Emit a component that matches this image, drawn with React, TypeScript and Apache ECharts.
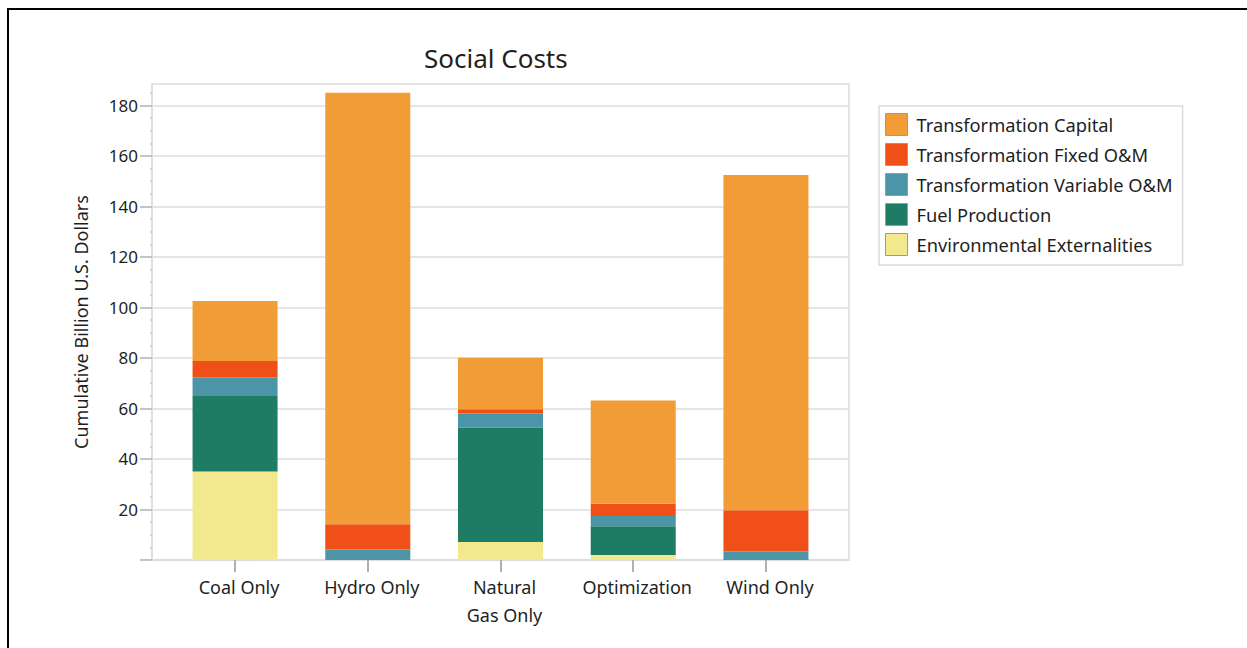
import React, { useEffect, useRef } from "react";
import * as echarts from "echarts";

// Scenarios along the x axis
const categories = ["Coal Only", "Hydro Only", "Natural\nGas Only", "Optimization", "Wind Only"];

// Cost components, in billion U.S. dollars, stacked bottom to top
const environmentalExternalities = [35.0, 0, 7.1, 2.0, 0];
const fuelProduction = [29.9, 0, 45.3, 11.4, 0];
const transformationVariableOM = [7.4, 4.2, 5.6, 4.0, 3.4];
const transformationFixedOM = [6.5, 10.0, 1.7, 4.9, 16.3];
const transformationCapital = [23.8, 170.8, 20.4, 40.9, 132.8];

const yTickValues = [0, 20, 40, 60, 80, 100, 120, 140, 160, 180];
const yLabelValues = [20, 40, 60, 80, 100, 120, 140, 160, 180];
const Y_MAX = 188.5;

const FONT = "'Segoe UI', 'Noto Sans', 'Open Sans', sans-serif";
const TEXT = "#1f1f1f";
const GRID = "#dcdcdc";
const TICK = "#b0b0b0";

const seriesDefs = [
  { name: "Environmental Externalities", data: environmentalExternalities, color: "#F2E88D" },
  { name: "Fuel Production", data: fuelProduction, color: "#1E7B64" },
  { name: "Transformation Variable O&M", data: transformationVariableOM, color: "#4C95A6" },
  { name: "Transformation Fixed O&M", data: transformationFixedOM, color: "#F04F17" },
  { name: "Transformation Capital", data: transformationCapital, color: "#F29C37" },
];

const legendOrder = [
  "Transformation Capital",
  "Transformation Fixed O&M",
  "Transformation Variable O&M",
  "Fuel Production",
  "Environmental Externalities",
];

// Plot frame and the narrower band in which the category slots sit
const PLOT = { left: 152, right: 398, top: 84, bottom: 88 };
const BAND_INSET = 16.7;

export default function App() {
  const ref = useRef<HTMLDivElement>(null);

  useEffect(() => {
    document.body.style.margin = "0";
    const chart = echarts.init(ref.current!, null, { renderer: "svg" });

    chart.setOption({
      animation: false,
      backgroundColor: "#ffffff",
      textStyle: { fontFamily: FONT },
      title: {
        text: "Social Costs",
        left: 419,
        top: 40,
        textStyle: { fontFamily: FONT, fontSize: 26, fontWeight: "normal", color: TEXT },
      },
      graphic: [
        { type: "rect", shape: { x: 7, y: 8, width: 2, height: 640 }, style: { fill: "#000" } },
        { type: "rect", shape: { x: 7, y: 8, width: 1240, height: 2 }, style: { fill: "#000" } },
      ],
      legend: {
        orient: "vertical",
        left: 879,
        top: 106,
        padding: [7, 10, 9, 6],
        itemWidth: 22,
        itemHeight: 22,
        itemGap: 7,
        borderColor: GRID,
        borderWidth: 1.5,
        icon: "rect",
        data: legendOrder,
        itemStyle: { borderColor: "#a09a8a", borderWidth: 1 },
        textStyle: { fontFamily: FONT, fontSize: 18.3, lineHeight: 22, color: TEXT, padding: [0, 0, 0, 4] },
      },
      grid: [
        // bars
        {
          left: PLOT.left + BAND_INSET,
          right: PLOT.right + BAND_INSET,
          top: PLOT.top,
          bottom: PLOT.bottom,
        },
        // frame, gridlines and y axis
        {
          left: PLOT.left,
          right: PLOT.right,
          top: PLOT.top,
          bottom: PLOT.bottom,
          show: true,
          borderColor: GRID,
          borderWidth: 1.5,
        },
      ],
      xAxis: [
        {
          gridIndex: 0,
          type: "category",
          data: categories,
          boundaryGap: true,
          axisLine: { show: false },
          axisTick: {
            show: true,
            alignWithLabel: true,
            length: 12,
            lineStyle: { color: TICK, width: 2 },
          },
          axisLabel: {
            interval: 0,
            fontFamily: FONT,
            fontSize: 18,
            color: TEXT,
            lineHeight: 28,
            margin: 13,
            padding: [0, 0, 0, 8],
          },
        },
        {
          gridIndex: 1,
          type: "value",
          min: 0,
          max: 1,
          axisLine: { show: true, onZero: false, lineStyle: { color: GRID, width: 1.5 } },
          axisTick: { show: false },
          axisLabel: { show: false },
          splitLine: { show: false },
        },
      ],
      yAxis: [
        { gridIndex: 0, type: "value", min: 0, max: Y_MAX, show: false, splitLine: { show: false } },
        {
          gridIndex: 1,
          type: "value",
          min: 0,
          max: Y_MAX,
          interval: 20,
          name: "Cumulative Billion U.S. Dollars",
          nameLocation: "middle",
          nameGap: 62,
          nameTextStyle: { fontFamily: FONT, fontSize: 18, color: TEXT },
          axisLine: { show: true, onZero: false, lineStyle: { color: GRID, width: 1.5 } },
          axisTick: {
            show: true,
            customValues: yTickValues,
            length: 12,
            lineStyle: { color: TICK, width: 1.5 },
          },
          minorTick: { show: true, splitNumber: 4, length: 2, lineStyle: { color: "#c8c8c8", width: 1.5 } },
          splitLine: { show: true, lineStyle: { color: GRID, width: 1.5 } },
          axisLabel: {
            customValues: yLabelValues,
            fontFamily: FONT,
            fontSize: 17,
            color: TEXT,
            margin: 14,
          },
        },
      ],
      series: seriesDefs.map((s) => ({
        name: s.name,
        type: "bar",
        xAxisIndex: 0,
        yAxisIndex: 0,
        stack: "total",
        barWidth: 85,
        data: s.data,
        itemStyle: { color: s.color },
        emphasis: { disabled: true },
      })),
    });

    return () => chart.dispose();
  }, []);

  return <div ref={ref} style={{ width: 1247, height: 648 }} />;
}
